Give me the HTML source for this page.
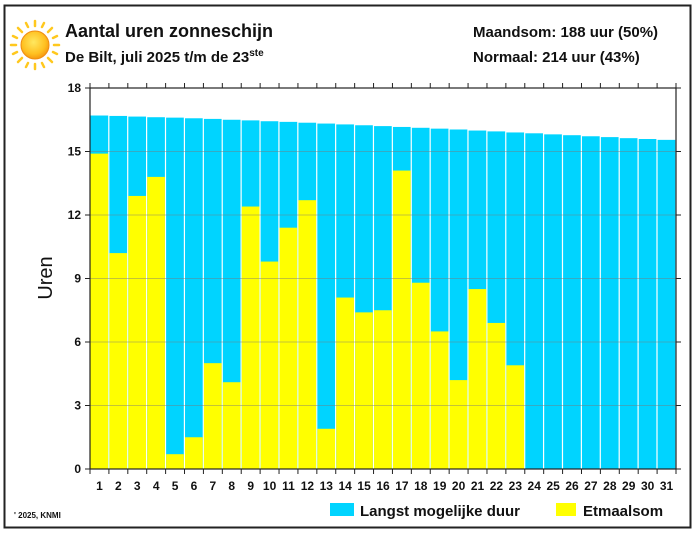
<!DOCTYPE html>
<html><head><meta charset="utf-8"><style>
body{margin:0;background:#fff;width:700px;height:534px;overflow:hidden}
svg{display:block;font-family:"Liberation Sans",Arial,sans-serif}
</style></head><body>
<svg id="c" width="700" height="534">
<defs><radialGradient id="sg" cx="0.45" cy="0.4" r="0.6"><stop offset="0" stop-color="#ffe860"/><stop offset="0.7" stop-color="#ffc020"/><stop offset="1" stop-color="#f59a10"/></radialGradient></defs>
<rect x="4.5" y="5.5" width="686" height="522" fill="#fff" stroke="#222" stroke-width="2"/>
<g stroke="#ffc81e" stroke-width="2.5" stroke-linecap="round">
<line x1="35" y1="21" x2="35" y2="26"/><line x1="35" y1="64" x2="35" y2="69"/>
<line x1="11" y1="45" x2="16" y2="45"/><line x1="54" y1="45" x2="59" y2="45"/>
<line x1="18" y1="28" x2="22" y2="32"/><line x1="48" y1="58" x2="52" y2="62"/>
<line x1="52" y1="28" x2="48" y2="32"/><line x1="22" y1="58" x2="18" y2="62"/>
<line x1="26" y1="23" x2="28" y2="27"/><line x1="44" y1="23" x2="42" y2="27"/>
<line x1="26" y1="67" x2="28" y2="63"/><line x1="44" y1="67" x2="42" y2="63"/>
<line x1="13" y1="36" x2="17" y2="38"/><line x1="57" y1="36" x2="53" y2="38"/>
<line x1="13" y1="54" x2="17" y2="52"/><line x1="57" y1="54" x2="53" y2="52"/>
<circle cx="35" cy="45" r="14" fill="url(#sg)" stroke="#f08c10" stroke-width="1"/>
</g>
<text x="65" y="37" font-size="18" font-weight="bold" fill="#111">Aantal uren zonneschijn</text>
<text x="65" y="62" font-size="15" font-weight="bold" fill="#111">De Bilt, juli 2025 t/m de 23<tspan font-size="10" dy="-6">ste</tspan></text>
<text x="473" y="37" font-size="15" font-weight="bold" fill="#111">Maandsom: 188 uur (50%)</text>
<text x="473" y="62" font-size="15" font-weight="bold" fill="#111">Normaal: 214 uur (43%)</text>
<g id="plot"></g>
<text transform="translate(52,278) rotate(-90)" text-anchor="middle" font-size="20" fill="#111">Uren</text>
<text x="14" y="518" font-size="8" font-weight="bold" fill="#111">' 2025, KNMI</text>
<rect x="330" y="503" width="24" height="13" fill="#00d4ff"/>
<text x="360" y="516" font-size="15" font-weight="bold" fill="#111">Langst mogelijke duur</text>
<rect x="556" y="503" width="20" height="13" fill="#ffff00"/>
<text x="583" y="516" font-size="15" font-weight="bold" fill="#111">Etmaalsom</text>
</svg>
<script>
const days=[1,2,3,4,5,6,7,8,9,10,11,12,13,14,15,16,17,18,19,20,21,22,23,24,25,26,27,28,29,30,31];
const maxDuration=[16.7,16.68,16.65,16.62,16.6,16.57,16.54,16.5,16.47,16.43,16.4,16.36,16.32,16.28,16.24,16.2,16.16,16.12,16.08,16.04,15.99,15.95,15.9,15.86,15.81,15.77,15.72,15.68,15.63,15.59,15.55];
const sunshine=[14.9,10.2,12.9,13.8,0.7,1.5,5.0,4.1,12.4,9.8,11.4,12.7,1.9,8.1,7.4,7.5,14.1,8.8,6.5,4.2,8.5,6.9,4.9];
const yTicks=[0,3,6,9,12,15,18];
const NS="http://www.w3.org/2000/svg";
const X0=90,X1=676,Y0=469,Y1=88;
const bw=(X1-X0)/days.length;
const xs=i=>X0+i*bw;
const ys=v=>Y0-(v/18)*(Y0-Y1);
const g=document.getElementById('plot');
function mk(t,a){const e=document.createElementNS(NS,t);for(const k in a)e.setAttribute(k,a[k]);g.appendChild(e);return e;}
days.forEach((d,i)=>{
 const r=mk('rect',{x:xs(i)+0.5,y:ys(maxDuration[i]),width:bw-1.2,height:Y0-ys(maxDuration[i]),fill:'#00d4ff'});
 
 
 if(i<sunshine.length){
  const s=mk('rect',{x:xs(i)+0.5,y:ys(sunshine[i]),width:bw-1.2,height:Y0-ys(sunshine[i]),fill:'#ffff00'});
  
  
 }
 const t=mk('text',{x:xs(i)+bw/2,y:490,'text-anchor':'middle','font-size':12,'font-weight':'bold',fill:'#111'});
 t.textContent=d;
 
 
});
yTicks.forEach(v=>{
 if(v>0&&v<18){const l=mk('line',{x1:X0,x2:X1,y1:ys(v),y2:ys(v),stroke:'#7a7a7a','stroke-width':0.8,'stroke-opacity':0.6});
 
 }
 mk('line',{x1:X0-5,x2:X0,y1:ys(v),y2:ys(v),stroke:'#222','stroke-width':1});
 mk('line',{x1:X1,x2:X1+5,y1:ys(v),y2:ys(v),stroke:'#222','stroke-width':1});
 const t=mk('text',{x:X0-9,y:ys(v)+4,'text-anchor':'end','font-size':12,'font-weight':'bold',fill:'#111'});
 t.textContent=v;
 
 
});
for(let i=0;i<=days.length;i++){
 mk('line',{x1:xs(i),x2:xs(i),y1:Y1-5,y2:Y1,stroke:'#222','stroke-width':1});
 mk('line',{x1:xs(i),x2:xs(i),y1:Y0,y2:Y0+5,stroke:'#222','stroke-width':1});
}
const ax=mk('rect',{x:X0,y:Y1,width:X1-X0,height:Y0-Y1,fill:'none',stroke:'#222','stroke-width':1.2});


</script>
</body></html>
